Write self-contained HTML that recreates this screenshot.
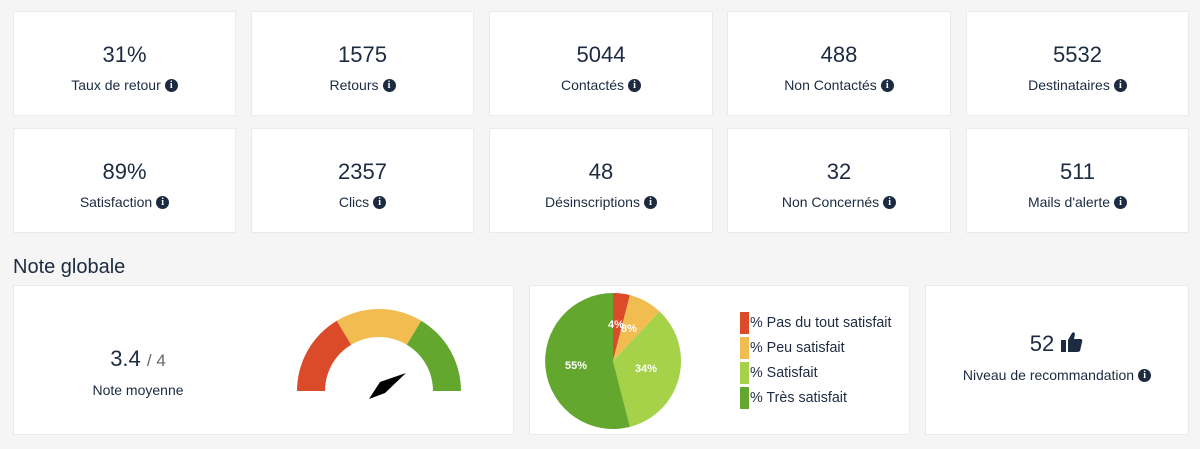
<!DOCTYPE html>
<html><head><meta charset="utf-8"><style>
body{margin:0;width:1200px;height:449px;background:#f5f5f5;font-family:"Liberation Sans",sans-serif;color:#1c2b41;position:relative;overflow:hidden}
.c{position:absolute;background:#fff;border:1px solid #ebebeb;box-sizing:border-box;text-align:center}
.n{position:absolute;left:0;right:0;top:30px;font-size:22px}
.l{position:absolute;left:0;right:0;top:65px;font-size:14px}
.i{display:inline-block;width:13px;height:13px;border-radius:50%;background:#1c2b41;color:#fff;font-size:10px;line-height:13px;font-weight:bold;font-family:"Liberation Serif",serif;vertical-align:-1px;margin-left:4px;position:relative;top:-3px}
</style></head><body>
<div class="c" style="left:13px;top:11px;width:223px;height:105px"><div class="n">31%</div><div class="l">Taux de retour<span class="i">i</span></div></div>
<div class="c" style="left:251px;top:11px;width:223px;height:105px"><div class="n">1575</div><div class="l">Retours<span class="i">i</span></div></div>
<div class="c" style="left:489px;top:11px;width:224px;height:105px"><div class="n">5044</div><div class="l">Contactés<span class="i">i</span></div></div>
<div class="c" style="left:727px;top:11px;width:224px;height:105px"><div class="n">488</div><div class="l">Non Contactés<span class="i">i</span></div></div>
<div class="c" style="left:966px;top:11px;width:223px;height:105px"><div class="n">5532</div><div class="l">Destinataires<span class="i">i</span></div></div>
<div class="c" style="left:13px;top:128px;width:223px;height:105px"><div class="n">89%</div><div class="l">Satisfaction<span class="i">i</span></div></div>
<div class="c" style="left:251px;top:128px;width:223px;height:105px"><div class="n">2357</div><div class="l">Clics<span class="i">i</span></div></div>
<div class="c" style="left:489px;top:128px;width:224px;height:105px"><div class="n">48</div><div class="l">Désinscriptions<span class="i">i</span></div></div>
<div class="c" style="left:727px;top:128px;width:224px;height:105px"><div class="n">32</div><div class="l">Non Concernés<span class="i">i</span></div></div>
<div class="c" style="left:966px;top:128px;width:223px;height:105px"><div class="n">511</div><div class="l">Mails d'alerte<span class="i">i</span></div></div>
<div style="position:absolute;left:13px;top:256px;font-size:20px">Note globale</div>
<div class="c" style="left:13px;top:285px;width:501px;height:150px">
<div style="position:absolute;left:0;width:248px;top:60px;font-size:22px">3.4 <span style="font-size:17px;color:#666">/ 4</span></div>
<div style="position:absolute;left:0;width:248px;top:96px;font-size:14px">Note moyenne</div>
</div>
<div class="c" style="left:529px;top:285px;width:381px;height:150px"></div>
<div class="c" style="left:925px;top:285px;width:264px;height:150px">
<div style="position:absolute;left:0;right:0;top:45px;font-size:22px">52 <svg width="24" height="22" viewBox="0 0 24 22" style="vertical-align:-2px"><rect x="1" y="9" width="5" height="12" fill="#1c2b41"/><path d="M8 9 L12 2 Q14 0 15 3 L14 8 L21 8 Q23 9 22 11 L20 20 Q19 21 17 21 L8 21Z" fill="#1c2b41"/></svg></div>
<div style="position:absolute;left:0;right:0;top:81px;font-size:14px">Niveau de recommandation<span class="i">i</span></div>
</div>
<svg style="position:absolute;left:0;top:0" width="1200" height="449">
<path d="M297 391 A82 82 0 0 1 336.8 320.7 L351.2 344.7 A54 54 0 0 0 325 391Z" fill="#db4b2a"/>
<path d="M336.8 320.7 A82 82 0 0 1 421.2 320.7 L406.8 344.7 A54 54 0 0 0 351.2 344.7Z" fill="#f2bd50"/>
<path d="M421.2 320.7 A82 82 0 0 1 461 391 L433 391 A54 54 0 0 0 406.8 344.7Z" fill="#63a72f"/>
<polygon points="406,373 385,393 369,399 380,382" fill="#000"/>
<path d="M613 361 L613 293 A68 68 0 0 1 629.9 295.1Z" fill="#db4b2a"/>
<path d="M613 361 L629.9 295.1 A68 68 0 0 1 659.5 311.4Z" fill="#f2bd50"/>
<path d="M613 361 L659.5 311.4 A68 68 0 0 1 629.9 426.9Z" fill="#a6d24a"/>
<path d="M613 361 L629.9 426.9 A68 68 0 1 1 613 293Z" fill="#63a72f"/>
<g fill="#fff" font-size="11" font-weight="bold" font-family="Liberation Sans">
<text x="608" y="328">4%</text><text x="621" y="332">8%</text><text x="635" y="372">34%</text><text x="565" y="369">55%</text></g>
<rect x="740" y="312" width="9" height="22" fill="#db4b2a"/>
<rect x="740" y="337" width="9" height="22" fill="#f2bd50"/>
<rect x="740" y="362" width="9" height="22" fill="#a6d24a"/>
<rect x="740" y="387" width="9" height="22" fill="#63a72f"/>
<g fill="#1c2b41" font-size="14.3" font-family="Liberation Sans">
<text x="750" y="327">% Pas du tout satisfait</text><text x="750" y="352">% Peu satisfait</text><text x="750" y="377">% Satisfait</text><text x="750" y="402">% Très satisfait</text></g>
</svg>
</body></html>
